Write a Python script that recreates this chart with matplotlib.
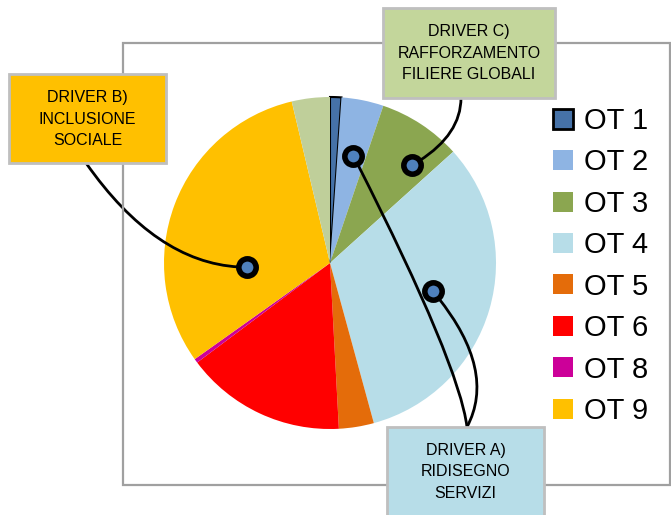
import numpy as np
import matplotlib
matplotlib.use("Agg")
import matplotlib.pyplot as plt
from matplotlib.patches import Rectangle, Patch

plt.rcParams['font.family'] = ['Liberation Sans Narrow', 'Liberation Sans', 'DejaVu Sans']

# share of resources by thematic objective (%)
labels = ["OT 1", "OT 2", "OT 3", "OT 4", "OT 5", "OT 6", "OT 8", "OT 9", "OT 11"]
values = [1.1, 4.1, 8.1, 32.4, 3.4, 15.6, 0.4, 31.1, 3.7]
colors = ["#4672A8", "#8EB4E3", "#8BA650", "#B7DDE8", "#E46C0A", "#FF0000",
          "#CC0099", "#FFC000", "#BFCF9A"]
legend_labels = labels[:8]

# driver callouts
driver_a = "DRIVER A)\nRIDISEGNO\nSERVIZI"
driver_b = "DRIVER B)\nINCLUSIONE\nSOCIALE"
driver_c = "DRIVER C)\nRAFFORZAMENTO\nFILIERE GLOBALI"

W, H = 671, 515
fig = plt.figure(figsize=(W / 100, H / 100), dpi=100)


def fx(px):
    return px / W


def fy(py):
    return 1 - py / H


# outer chart frame
fig.patches.append(Rectangle((fx(123), fy(485)), fx(670) - fx(123), fy(43) - fy(485),
                             transform=fig.transFigure, fill=False,
                             edgecolor="#A0A0A0", lw=1.6, zorder=0))

cx, cy, r = 330, 263, 166
ax = fig.add_axes([fx(cx - r), fy(cy + r), 2 * r / W, 2 * r / H])
wedges, _ = ax.pie(values, colors=colors, startangle=90, counterclock=False,
                   wedgeprops=dict(linewidth=0))
wedges[0].set_edgecolor("black")
wedges[0].set_linewidth(1.5)
ax.set_xlim(-1, 1)
ax.set_ylim(-1, 1)
ax.set_aspect("auto")
ax.axis("off")


def anchor(i, t, rr):
    w = wedges[i]
    th = np.radians(w.theta1 + t * (w.theta2 - w.theta1))
    return rr * np.cos(th), rr * np.sin(th)


p_ot2 = anchor(1, 0.43, 0.66)
p_ot3 = anchor(2, 0.27, 0.77)
p_ot4 = anchor(3, 0.51, 0.64)
p_ot9 = anchor(7, 0.71, 0.50)

for p in [p_ot2, p_ot3, p_ot4, p_ot9]:
    ax.plot(*p, marker="o", ms=12.5, mfc="#4F81BD", mec="black", mew=4, zorder=5)

line_kw = dict(arrowstyle="-", color="black", lw=2, shrinkA=0, shrinkB=6)
ax.annotate("", xy=p_ot3, xytext=(fx(461), fy(98)), textcoords="figure fraction",
            arrowprops=dict(connectionstyle="angle3,angleA=90,angleB=30", **line_kw))
ax.annotate("", xy=p_ot9, xytext=(fx(86), fy(163)), textcoords="figure fraction",
            arrowprops=dict(connectionstyle="angle3,angleA=-55,angleB=0", **line_kw))
ax.annotate("", xy=p_ot4, xytext=(fx(467), fy(427)), textcoords="figure fraction",
            arrowprops=dict(connectionstyle="angle3,angleA=62,angleB=-50", **line_kw))
ax.annotate("", xy=p_ot2, xytext=(fx(467), fy(427)), textcoords="figure fraction",
            arrowprops=dict(connectionstyle="angle3,angleA=97,angleB=-63", **line_kw))


def driver_box(x0, y0, x1, y1, text, color):
    fig.patches.append(Rectangle((fx(x0), fy(y1)), fx(x1) - fx(x0), fy(y0) - fy(y1),
                                 transform=fig.transFigure, facecolor=color,
                                 edgecolor="#BFBFBF", lw=2, zorder=3))
    fig.text(fx((x0 + x1) / 2), fy(y0 + 45), text, ha="center", va="center",
             fontsize=11.5, linespacing=1.55, color="black", zorder=4)


driver_box(383, 8, 555, 98, driver_c, "#C3D69B")
driver_box(9, 74, 166, 163, driver_b, "#FFC000")
driver_box(387, 427, 544, 540, driver_a, "#B7DDE8")

handles = [Patch(facecolor=colors[i], edgecolor="black" if i == 0 else colors[i],
                 lw=2 if i == 0 else 0) for i in range(len(legend_labels))]
fig.legend(handles, legend_labels, loc="upper left", bbox_to_anchor=(fx(553), fy(107)),
           frameon=False, fontsize=21, handlelength=0.68, handleheight=0.68,
           handletextpad=0.4, labelspacing=0.46, borderpad=0, borderaxespad=0)

fig.savefig("out.png", dpi=100)
